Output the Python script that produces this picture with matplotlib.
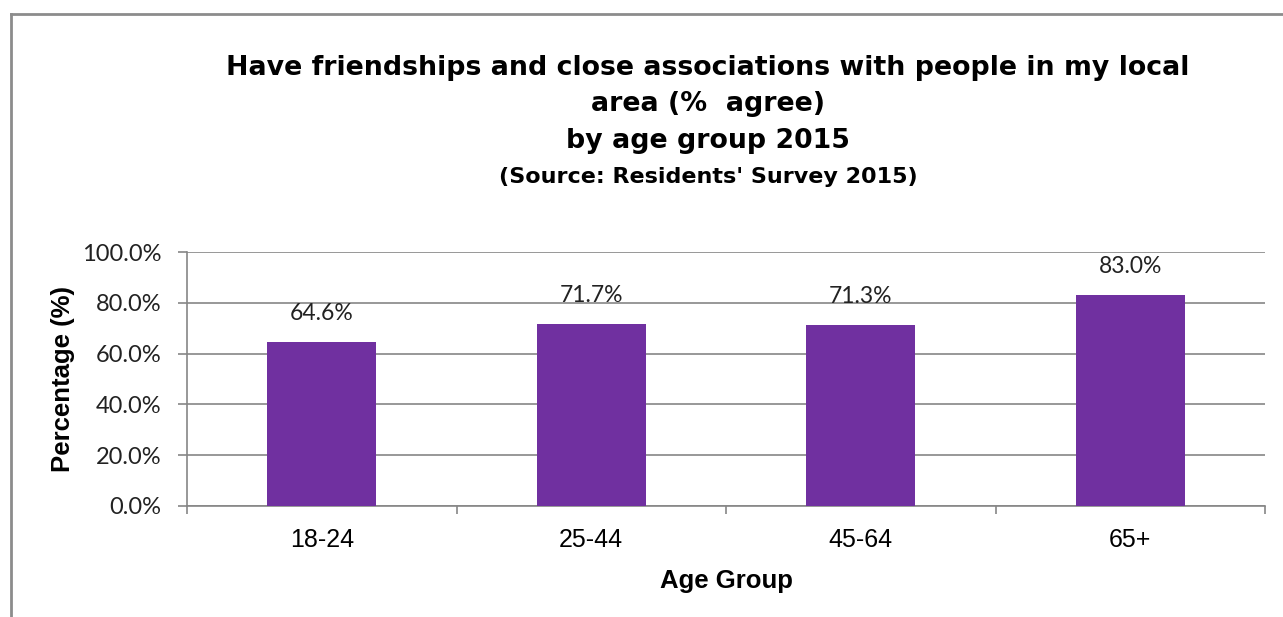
import matplotlib.pyplot as plt
from matplotlib.lines import Line2D
from matplotlib.ticker import FuncFormatter, MultipleLocator, FixedLocator

age_groups = ['18-24', '25-44', '45-64', '65+']
agree_pct = [64.6, 71.7, 71.3, 83.0]

bar_col = '#7030A0'
grid_col = '#868686'
calibri_like = 'Lato'
arial_like = 'Liberation Sans'
title_font = 'DejaVu Sans'

fig = plt.figure(figsize=(12.83, 6.17), dpi=100)
ax = fig.add_axes([0.1458, 0.1804, 0.8402, 0.4107])

x = list(range(len(age_groups)))
bars = ax.bar(x, agree_pct, width=0.405, color=bar_col, zorder=3)

for xi, v in zip(x, agree_pct):
    ax.annotate(f'{v:.1f}%', (xi, v), xytext=(0, 13), textcoords='offset points',
                ha='center', va='bottom', fontsize=16.5, family=calibri_like, color='#222222')

ax.set_xlim(-0.5, len(age_groups) - 0.5)
ax.set_ylim(0, 100)

# y axis: percentages with one decimal
ax.yaxis.set_major_locator(MultipleLocator(20))
ax.yaxis.set_major_formatter(FuncFormatter(lambda v, p: f'{v:.1f}%'))
ax.grid(axis='y', color=grid_col, linewidth=1.2, zorder=0)
ax.tick_params(axis='y', direction='out', length=6.5, width=1.2, color=grid_col,
               pad=12, labelsize=17)
for lab in ax.get_yticklabels():
    lab.set_family(calibri_like)
    lab.set_color('#222222')

# x axis: labels at centres, tick marks at category boundaries
ax.set_xticks(x)
ax.set_xticklabels(age_groups, family=arial_like, fontsize=18)
ax.tick_params(axis='x', which='major', length=0, pad=16)
ax.xaxis.set_minor_locator(FixedLocator([i - 0.5 for i in range(len(age_groups) + 1)]))
ax.tick_params(axis='x', which='minor', direction='out', length=6, width=1.2, color=grid_col)

for side in ['top', 'right']:
    ax.spines[side].set_visible(False)
for side in ['left', 'bottom']:
    ax.spines[side].set_color(grid_col)
    ax.spines[side].set_linewidth(1.2)

ax.set_xlabel('Age Group', family=arial_like, fontsize=18.5, fontweight='bold', labelpad=12)
ax.set_ylabel('Percentage (%)', family=arial_like, fontsize=18.5, fontweight='bold', labelpad=5)

# titles
title_x = 708 / 1283
fig.text(title_x, 1 - 68 / 617, 'Have friendships and close associations with people in my local',
         ha='center', va='center', family=title_font, fontsize=19.3, fontweight='bold')
fig.text(title_x, 1 - 104 / 617, 'area (%  agree)',
         ha='center', va='center', family=title_font, fontsize=19.3, fontweight='bold')
fig.text(title_x, 1 - 141 / 617, 'by age group 2015',
         ha='center', va='center', family=title_font, fontsize=19.3, fontweight='bold')
fig.text(title_x, 1 - 177 / 617, "(Source: Residents' Survey 2015)",
         ha='center', va='center', family=title_font, fontsize=16, fontweight='bold')

# chart frame
fig.add_artist(Line2D([11 / 1283, 1], [1 - 14 / 617, 1 - 14 / 617], color='#8c8c8c', linewidth=2))
fig.add_artist(Line2D([11 / 1283, 11 / 1283], [0, 1 - 14 / 617], color='#8c8c8c', linewidth=2))

fig.savefig('out.png', dpi=100)
